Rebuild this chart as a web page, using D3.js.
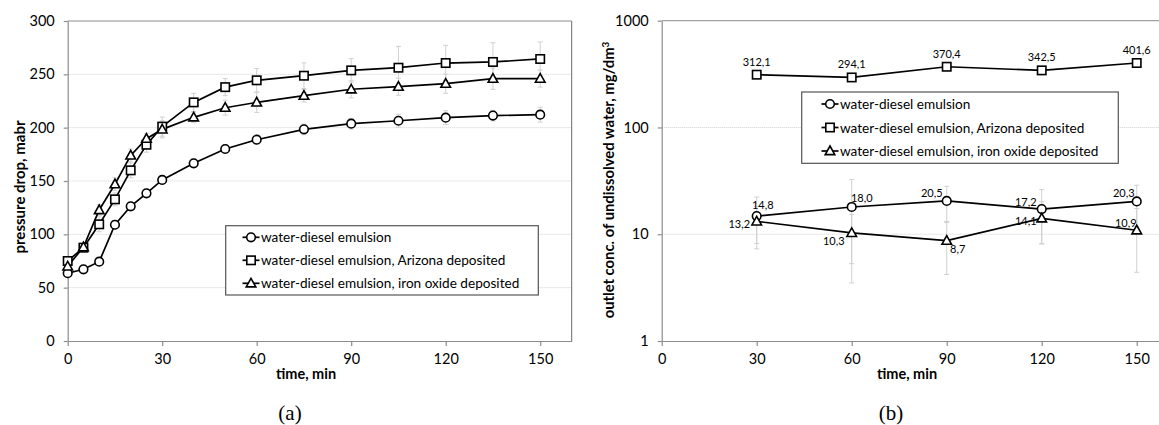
<!DOCTYPE html>
<html><head><meta charset="utf-8">
<script src="https://cdn.jsdelivr.net/npm/d3@7"></script>
<style>
body{margin:0;background:#fff;}
svg{display:block;font-family:Lato,"Liberation Sans",sans-serif;}
</style></head>
<body>
<svg id="c" width="1159" height="425"></svg>
<script>
// ---------- data ----------
const timesA = [0,5,10,15,20,25,30,40,50,60,75,90,105,120,135,150];
const emulsionA = [63.5,67.2,74.4,109,126.3,138.4,151,166.6,180,188.7,198.4,203.7,206.5,209.4,211.3,212.2];
const emulsionAErr = [2,2,3,4,3,3,4,4,4,4,5,5,6,6.5,5,7];
const arizonaA = [75,87.5,109.4,132.8,160,184,201,223.7,238,244.4,248.7,253.7,256.2,260.6,261.6,264.4];
const arizonaAErr = [3,4,7,6,7,7,9,8.5,8,11,12,11,20,16.6,18,16];
const ironA = [70,88,122.8,147,174,189.7,198.4,209.7,218.7,223.7,230,236,238.4,241.2,245.9,246];
const ironAErr = [3,3,5,6,6,5,8,5,7,9.4,6,8,8,9,10,8];

const timesB = [30,60,90,120,150];
const emulsionB = [14.8,18.0,20.5,17.2,20.3];
const emulsionBErr = [7.5,14.5,7.6,9,8.5];
const arizonaB = [312.1,294.1,370.4,342.5,401.6];
const ironB = [13.2,10.3,8.7,14.1,10.9];
const ironBErr = [5,5,4.5,6,6.5];

const seriesNames = ["water-diesel emulsion","water-diesel emulsion, Arizona deposited","water-diesel emulsion, iron oxide deposited"];
const xTicks = [0,30,60,90,120,150];
const yTicksA = [0,50,100,150,200,250,300];
const yTicksB = [1,10,100,1000];

// label placement offsets (dx, dy) relative to each point, for chart (b)
const labOffEm = [[6,-7],[10,-5],[-15,-4],[-16,-3],[-13,-4]];
const labOffAz = [[0,-9],[0,-9],[0,-9],[0,-9],[0,-9]];
const labOffIr = [[-17.5,7],[-18,12],[11,12],[-16,7],[-11,-3]];

const svg = d3.select("#c");
const fmt = d => d.toFixed(1).replace(".", ",");

function marker(g, type, x, y){
  if(type==="circle"){
    g.append("circle").attr("cx",x).attr("cy",y).attr("r",4.3)
      .attr("fill","#fff").attr("stroke","#000").attr("stroke-width",1.6);
  } else if(type==="square"){
    g.append("rect").attr("x",x-4.2).attr("y",y-4.2).attr("width",8.4).attr("height",8.4)
      .attr("fill","#fff").attr("stroke","#000").attr("stroke-width",1.6);
  } else {
    g.append("path").attr("d",`M${x},${y-5}L${x+4.8},${y+3.6}L${x-4.8},${y+3.6}Z`)
      .attr("fill","#fff").attr("stroke","#000").attr("stroke-width",1.6).attr("stroke-linejoin","miter");
  }
}
const types = ["circle","square","triangle"];

function drawChart(cfg){
  const g = svg.append("g");
  const x = cfg.x, y = cfg.y;
  const [x0,x1] = x.range(), [yb,yt] = y.range();
  // grid
  g.append("g").selectAll("line").data(cfg.grid).join("line")
    .attr("x1",x0).attr("x2",x1).attr("y1",d=>y(d)).attr("y2",d=>y(d))
    .attr("stroke","#d2d2d2").attr("stroke-width",1).attr("stroke-dasharray","1,1");
  // frame
  g.append("line").attr("x1",x0).attr("x2",x1).attr("y1",yt).attr("y2",yt).attr("stroke","#8c8c8c");
  g.append("line").attr("x1",x1).attr("x2",x1).attr("y1",yt).attr("y2",yb).attr("stroke","#6a6a6a");
  // axes
  const ax = g.append("g").attr("transform",`translate(0,${yb})`)
    .call(d3.axisBottom(x).tickValues(xTicks).tickSize(5).tickPadding(8).tickSizeOuter(0));
  const ay = g.append("g").attr("transform",`translate(${x0},0)`)
    .call(d3.axisLeft(y).tickValues(cfg.yTicks).tickFormat(d=>String(d)).tickSize(4).tickPadding(cfg.yPad).tickSizeOuter(0));
  [ax,ay].forEach(a=>{
    a.select(".domain").attr("stroke","#8c8c8c").attr("stroke-width",1.2);
    a.selectAll(".tick line").attr("stroke","#8c8c8c").attr("stroke-width",1.2);
    a.selectAll("text").attr("font-size",14.5).attr("fill","#000").attr("font-family","Lato, sans-serif");
  });
  // error bars
  cfg.series.forEach(s=>{
    if(!s.err) return;
    const eg = g.append("g").attr("stroke","#d0d0d0").attr("stroke-width",1);
    s.t.forEach((t,i)=>{
      const xx = x(t), hi = y(s.v[i]+s.err[i]), lo = y(s.v[i]-s.err[i]);
      eg.append("line").attr("x1",xx).attr("x2",xx).attr("y1",hi).attr("y2",lo);
      eg.append("line").attr("x1",xx-2.5).attr("x2",xx+2.5).attr("y1",hi).attr("y2",hi);
      eg.append("line").attr("x1",xx-2.5).attr("x2",xx+2.5).attr("y1",lo).attr("y2",lo);
    });
  });
  // lines
  const line = d3.line().x(d=>x(d[0])).y(d=>y(d[1]));
  cfg.series.forEach(s=>{
    g.append("path").datum(s.t.map((t,i)=>[t,s.v[i]])).attr("d",line)
      .attr("fill","none").attr("stroke","#000").attr("stroke-width",1.7);
  });
  cfg.series.forEach(s=>{
    s.t.forEach((t,i)=>marker(g,s.type,x(t),y(s.v[i])));
  });
  // labels
  cfg.series.forEach(s=>{
    if(!s.lab) return;
    s.t.forEach((t,i)=>{
      g.append("text").attr("x",x(t)+s.lab[i][0]).attr("y",y(s.v[i])+s.lab[i][1])
        .attr("text-anchor","middle").attr("font-size",11).attr("fill","#000")
        .text(fmt(s.v[i]));
    });
  });
  // legend
  const L = cfg.legend;
  g.append("rect").attr("x",L.x).attr("y",L.y).attr("width",L.w).attr("height",L.h)
    .attr("fill","#fff").attr("stroke","#555").attr("stroke-width",1.2);
  seriesNames.forEach((n,i)=>{
    const cy = L.y + L.row0 + i*L.dy;
    g.append("line").attr("x1",L.sx-8.5).attr("x2",L.sx+8.5).attr("y1",cy).attr("y2",cy)
      .attr("stroke","#000").attr("stroke-width",1.7);
    marker(g,types[i],L.sx,cy);
    g.append("text").attr("x",L.sx+10).attr("y",cy+5).attr("font-size",13.6).attr("fill","#000").text(n);
  });
  return g;
}

// chart (a)
const xA = d3.scaleLinear().domain([0,160]).range([67.7,571.7]);
const yA = d3.scaleLinear().domain([0,300]).range([341,21]);
drawChart({
  x:xA, y:yA, yTicks:yTicksA, grid:[50,100,150,200,250], yPad:9,
  series:[
    {t:timesA, v:emulsionA, err:emulsionAErr, type:"circle"},
    {t:timesA, v:arizonaA, err:arizonaAErr, type:"square"},
    {t:timesA, v:ironA, err:ironAErr, type:"triangle"}
  ],
  legend:{x:225.7,y:225.7,w:312.6,h:69.3,sx:251,row0:11.6,dy:23}
});

// chart (b)
const xB = d3.scaleLinear().domain([0,160]).range([661.7,1168.4]);
const yB = d3.scaleLog().domain([1,1000]).range([341,20.7]);
drawChart({
  x:xB, y:yB, yTicks:yTicksB, grid:[10,100], yPad:9,
  series:[
    {t:timesB, v:emulsionB, err:emulsionBErr, type:"circle", lab:labOffEm},
    {t:timesB, v:arizonaB, err:null, type:"square", lab:labOffAz},
    {t:timesB, v:ironB, err:ironBErr, type:"triangle", lab:labOffIr}
  ],
  legend:{x:801.7,y:92,w:316.6,h:71.3,sx:830,row0:12,dy:23.5}
});

// axis titles
svg.append("text").attr("x",306).attr("y",379).attr("text-anchor","middle")
  .attr("font-weight","bold").attr("font-size",14.5).text("time, min");
svg.append("text").attr("x",907).attr("y",379).attr("text-anchor","middle")
  .attr("font-weight","bold").attr("font-size",14.5).text("time, min");
svg.append("text").attr("transform","translate(25,187) rotate(-90)").attr("text-anchor","middle")
  .attr("font-weight","bold").attr("font-size",15).text("pressure drop, mabr");
const tB = svg.append("text").attr("transform","translate(614,180) rotate(-90)").attr("text-anchor","middle")
  .attr("font-weight","bold").attr("font-size",14.8);
tB.append("tspan").text("outlet conc. of undissolved water, mg/dm");
tB.append("tspan").attr("dy",-5).attr("font-size",10).text("3");

// captions
svg.append("text").attr("x",290).attr("y",420).attr("text-anchor","middle")
  .attr("font-family","'Liberation Serif',serif").attr("font-size",21).text("(a)");
svg.append("text").attr("x",891).attr("y",420).attr("text-anchor","middle")
  .attr("font-family","'Liberation Serif',serif").attr("font-size",21).text("(b)");
</script>
</body></html>
